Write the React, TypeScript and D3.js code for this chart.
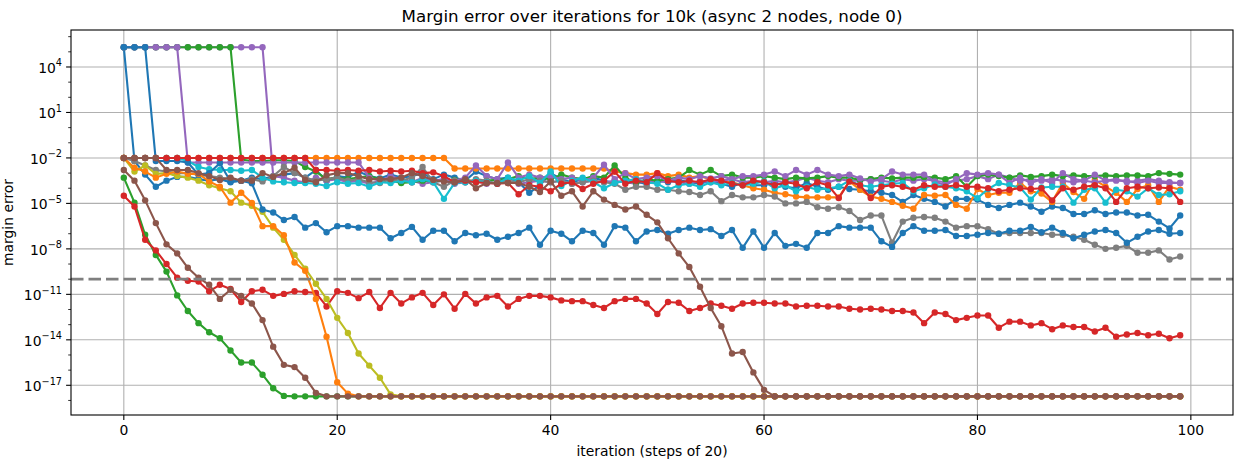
import * as d3 from 'd3';

// values are log10(margin error)
const T = 5.3; // start plateau
const F = -17.73; // numerical floor

const iterations = d3.range(100);

const blueA = [
  T, -2.2, -3.1, -3.9, -3.5, -3.25, -3.25, -3.4, -3.5, -3.4,
  -3.6, -3.5, -3.3, -3.4, -3.2, -3.1, -3.0, -3.3, -2.8, -3.5,
  -3.2, -3.3, -2.9, -3.2, -3.35, -3.1, -3.3, -3.2, -3.0, -3.4,
  -3.1, -3.3, -3.5, -2.9, -3.2, -3.4, -3.3, -3.6, -4.3, -3.8,
  -3.0, -3.4, -3.6, -3.4, -3.3, -3.5, -3.65, -3.5, -3.6, -3.7,
  -3.5, -3.6, -3.45, -3.6, -3.7, -3.5, -3.7, -3.9, -3.6, -3.8,
  -3.8, -3.6, -3.9, -4.0, -3.65, -3.9, -4.1, -3.9, -4.05, -4.1,
  -4.2, -4.3, -4.45, -4.9, -4.45, -4.7, -4.9, -5.2, -4.7, -4.7,
  -4.75, -5.1, -5.3, -5.1, -4.95, -5.2, -5.55, -5.2, -5.3, -5.7,
  -5.7, -5.45, -5.7, -5.6, -5.6, -5.8, -5.75, -6.2, -6.65, -5.8,
];

const blueB = [
  T, T, T, -2.2, -2.2, -2.2, -2.3, -3.1, -3.0, -2.35,
  -3.55, -3.5, -3.67, -5.4, -5.6, -6.1, -5.9, -6.6, -6.3, -6.9,
  -6.5, -6.5, -6.6, -6.6, -6.6, -7.3, -6.95, -6.55, -7.4, -6.8,
  -6.8, -7.5, -6.95, -7.1, -7.0, -7.4, -7.2, -6.95, -6.6, -7.73,
  -6.8, -7.0, -7.5, -6.8, -6.95, -7.73, -6.5, -6.6, -7.5, -6.85,
  -6.75, -7.0, -6.75, -6.6, -6.75, -6.7, -7.15, -6.75, -7.93, -6.85,
  -7.93, -6.95, -7.8, -7.67, -7.93, -6.95, -6.95, -6.5, -6.6, -6.6,
  -6.6, -7.5, -7.87, -6.95, -6.5, -6.8, -6.8, -6.75, -7.15, -7.15,
  -7.07, -6.95, -7.0, -6.8, -6.8, -6.55, -6.9, -6.6, -6.95, -7.3,
  -7.07, -6.85, -6.75, -6.95, -7.6, -7.2, -6.85, -6.75, -7.0, -6.95,
];

const orangeLow = [
  -2.0, -2.65, -2.9, -3.3, -3.05, -2.9, -3.05, -3.05, -3.55, -3.9,
  -4.95, -4.3, -4.97, -6.5, -6.5, -7.1, -8.9, -9.45, -11.3, -13.8,
  -16.8, -17.55, F, F, F, F, F, F, F, F,
  F, F, F, F, F, F, F, F, F, F,
  F, F, F, F, F, F, F, F, F, F,
  F, F, F, F, F, F, F, F, F, F,
  F, F, F, F, F, F, F, F, F, F,
  F, F, F, F, F, F, F, F, F, F,
  F, F, F, F, F, F, F, F, F, F,
  F, F, F, F, F, F, F, F, F, F,
];

const oliveLow = [
  -2.0, -2.9, -2.5, -3.05, -3.0, -3.2, -3.3, -3.5, -3.8, -4.0,
  -4.2, -4.95, -5.15, -5.55, -6.6, -7.4, -8.4, -9.3, -10.3, -11.3,
  -12.55, -13.55, -14.9, -15.7, -16.5, -17.6, F, F, F, F,
  F, F, F, F, F, F, F, F, F, F,
  F, F, F, F, F, F, F, F, F, F,
  F, F, F, F, F, F, F, F, F, F,
  F, F, F, F, F, F, F, F, F, F,
  F, F, F, F, F, F, F, F, F, F,
  F, F, F, F, F, F, F, F, F, F,
  F, F, F, F, F, F, F, F, F, F,
];

const greenLow = [
  -3.3, -4.95, -7.07, -8.4, -9.5, -11.07, -12.1, -12.9, -13.5, -13.9,
  -14.7, -15.5, -15.5, -16.3, -17.2, -17.7, F, F, F, F,
  F, F, F, F, F, F, F, F, F, F,
  F, F, F, F, F, F, F, F, F, F,
  F, F, F, F, F, F, F, F, F, F,
  F, F, F, F, F, F, F, F, F, F,
  F, F, F, F, F, F, F, F, F, F,
  F, F, F, F, F, F, F, F, F, F,
  F, F, F, F, F, F, F, F, F, F,
  F, F, F, F, F, F, F, F, F, F,
];

const redLow = [
  -4.5, -5.2, -7.4, -8.1, -9.0, -9.9, -10.1, -10.15, -10.8, -10.37,
  -10.65, -11.5, -10.8, -10.7, -11.1, -10.97, -10.8, -10.85, -10.9, -11.8,
  -10.8, -10.9, -11.25, -10.85, -11.9, -10.9, -11.6, -11.2, -10.9, -11.7,
  -11.0, -11.95, -10.97, -11.6, -11.2, -11.1, -11.8, -11.3, -11.1, -11.1,
  -11.2, -11.4, -11.45, -11.45, -11.7, -11.9, -11.45, -11.3, -11.3, -11.6,
  -12.3, -11.5, -11.55, -12.1, -11.9, -11.6, -11.75, -11.95, -11.6, -11.55,
  -11.55, -11.6, -11.6, -11.8, -11.75, -11.75, -11.8, -11.8, -11.95, -12.0,
  -11.95, -12.0, -12.1, -12.1, -12.2, -12.9, -12.2, -12.3, -12.7, -12.55,
  -12.4, -12.4, -13.2, -12.8, -12.8, -13.05, -12.9, -13.3, -13.05, -13.15,
  -13.15, -13.45, -13.2, -13.8, -13.65, -13.55, -13.7, -13.6, -13.9, -13.7,
];

const brownLow = [
  -2.8, -3.5, -4.8, -6.3, -7.7, -8.3, -9.25, -9.9, -10.37, -11.3,
  -10.7, -11.1, -11.6, -12.7, -14.45, -15.65, -15.8, -16.5, -17.5, F,
  F, F, F, F, F, F, F, F, F, F,
  F, F, F, F, F, F, F, F, F, F,
  F, F, F, F, F, F, F, F, F, F,
  F, F, F, F, F, F, F, F, F, F,
  F, F, F, F, F, F, F, F, F, F,
  F, F, F, F, F, F, F, F, F, F,
  F, F, F, F, F, F, F, F, F, F,
  F, F, F, F, F, F, F, F, F, F,
];

const brownB = [
  -2.0, -2.0, -2.0, -2.0, -2.8, -2.8, -2.8, -3.0, -3.2, -3.45,
  -3.3, -3.5, -3.5, -3.0, -3.25, -3.0, -2.65, -3.45, -3.6, -3.15,
  -3.0, -3.0, -3.2, -3.4, -3.4, -3.4, -3.3, -3.0, -3.2, -3.45,
  -3.55, -3.6, -3.4, -4.0, -3.65, -3.65, -3.65, -3.65, -3.9, -4.25,
  -3.55, -4.5, -4.2, -5.2, -4.2, -4.75, -5.1, -5.4, -5.2, -5.75,
  -6.25, -7.3, -8.3, -9.2, -10.5, -11.9, -13.1, -14.9, -14.8, -16.15,
  -17.3, F, F, F, F, F, F, F, F, F,
  F, F, F, F, F, F, F, F, F, F,
  F, F, F, F, F, F, F, F, F, F,
  F, F, F, F, F, F, F, F, F, F,
];

const gray = [
  -2.0, -2.2, -2.5, -2.8, -2.9, -3.0, -3.0, -3.1, -3.2, -3.3,
  -3.4, -3.5, -3.4, -3.55, -3.2, -2.6, -3.0, -3.3, -3.5, -3.4,
  -3.3, -3.5, -3.4, -3.6, -3.65, -3.4, -3.5, -3.3, -2.6, -3.6,
  -3.9, -3.5, -3.6, -3.4, -3.5, -3.7, -3.5, -3.6, -3.4, -3.5,
  -3.6, -3.5, -3.7, -3.6, -3.5, -3.6, -3.7, -4.1, -3.9, -3.9,
  -4.1, -4.1, -4.2, -4.25, -4.45, -4.2, -4.85, -4.45, -4.6, -4.6,
  -4.45, -4.55, -5.0, -5.0, -4.9, -5.25, -5.35, -5.25, -5.5, -6.1,
  -5.8, -5.8, -7.6, -6.2, -5.95, -5.9, -5.95, -6.2, -6.6, -6.5,
  -6.5, -6.7, -7.0, -6.95, -6.95, -6.95, -6.95, -7.07, -7.07, -7.2,
  -7.4, -7.73, -8.0, -7.93, -7.8, -8.26, -8.26, -8.1, -8.7, -8.5,
];

const greenA = [
  T, T, T, T, T, T, T, T, T, T,
  T, -2.1, -2.2, -2.2, -2.15, -2.15, -2.2, -2.6, -2.9, -3.4,
  -3.3, -3.4, -3.3, -3.2, -3.4, -3.5, -3.65, -3.6, -3.5, -3.55,
  -3.5, -3.45, -3.4, -3.6, -3.5, -3.45, -3.4, -3.2, -3.4, -3.3,
  -3.4, -3.1, -3.3, -3.4, -3.2, -3.3, -2.5, -3.3, -3.65, -3.4,
  -3.5, -3.4, -3.3, -2.8, -3.1, -2.8, -3.2, -3.1, -3.3, -3.3,
  -3.2, -3.3, -3.4, -3.3, -3.35, -3.3, -3.2, -3.3, -3.3, -3.45,
  -3.4, -3.3, -3.35, -3.3, -3.3, -3.25, -3.3, -3.4, -3.2, -3.9,
  -3.2, -3.1, -3.2, -3.3, -3.15, -3.25, -3.2, -3.1, -3.2, -3.15,
  -3.2, -3.2, -3.15, -3.2, -3.15, -3.15, -3.2, -3.0, -3.05, -3.1,
];

const purpleA = [
  T, T, T, T, T, T, -2.3, -2.3, -2.3, -2.3,
  -2.3, -2.3, -2.3, -2.3, -2.3, -2.3, -2.3, -2.3, -2.3, -2.3,
  -2.3, -2.3, -2.3, -3.3, -3.5, -3.2, -3.4, -3.6, -3.3, -3.5,
  -3.4, -3.5, -3.3, -2.5, -3.2, -3.4, -2.3, -3.3, -3.1, -3.3,
  -3.2, -3.4, -3.3, -3.5, -3.3, -2.45, -3.4, -3.0, -3.4, -3.3,
  -3.2, -3.5, -3.3, -3.4, -3.2, -3.35, -3.2, -3.4, -3.2, -3.2,
  -3.1, -2.9, -3.2, -2.8, -3.1, -2.8, -3.1, -3.2, -3.1, -3.35,
  -3.55, -3.4, -2.9, -3.1, -3.1, -3.1, -3.55, -3.8, -3.4, -3.0,
  -3.1, -3.0, -3.1, -3.65, -3.3, -3.65, -3.4, -3.65, -3.0, -3.4,
  -3.5, -3.1, -3.5, -3.5, -3.5, -3.65, -3.5, -3.65, -3.65, -3.65,
];

const purpleB = [
  T, T, T, T, T, T, T, T, T, T,
  T, T, T, T, -3.2, -3.3, -3.5, -3.6, -3.3, -3.5,
  -3.4, -3.6, -3.5, -3.7, -3.5, -3.4, -3.6, -3.5, -3.7, -3.6,
  -3.5, -3.7, -3.6, -3.5, -3.7, -3.6, -3.5, -3.7, -3.6, -3.5,
  -3.6, -3.5, -3.7, -3.6, -3.5, -3.6, -3.5, -3.6, -3.7, -3.5,
  -3.6, -3.5, -3.6, -3.7, -3.5, -3.6, -3.5, -3.4, -3.6, -3.5,
  -3.6, -3.5, -3.6, -3.5, -3.3, -3.5, -3.6, -3.4, -3.5, -3.5,
  -3.4, -3.5, -3.6, -3.4, -3.5, -3.4, -3.5, -3.6, -3.5, -3.4,
  -3.2, -3.4, -3.1, -3.3, -3.5, -3.4, -3.5, -3.4, -3.5, -3.6,
  -3.5, -3.6, -3.5, -3.4, -3.6, -3.5, -3.4, -3.5, -3.6, -3.65,
];

const redB = [
  -2.0, -2.0, -2.0, -2.0, -2.0, -2.0, -2.0, -2.0, -2.0, -2.0,
  -2.0, -2.0, -2.0, -2.0, -2.0, -2.0, -2.0, -2.0, -2.8, -2.8,
  -2.85, -2.8, -2.85, -2.8, -2.9, -2.85, -2.9, -2.85, -3.0, -2.95,
  -3.2, -3.6, -3.5, -3.6, -3.65, -3.7, -3.65, -4.4, -3.8, -3.9,
  -4.2, -3.7, -3.6, -4.05, -3.7, -3.5, -2.9, -3.7, -3.5, -3.6,
  -3.0, -3.5, -3.6, -3.5, -3.6, -3.4, -3.5, -3.7, -3.8, -3.5,
  -3.6, -3.8, -3.6, -3.7, -4.0, -3.6, -3.8, -4.65, -3.55, -3.8,
  -4.65, -3.9, -3.8, -3.9, -4.1, -3.8, -3.9, -3.9, -3.8, -3.9,
  -3.9, -4.0, -4.2, -4.1, -4.0, -4.05, -4.0, -4.8, -4.0, -4.1,
  -3.9, -3.8, -4.0, -4.9, -4.0, -3.9, -4.0, -3.95, -4.0, -4.9,
];

const orangeB = [
  -2.0, -2.0, -2.0, -2.0, -2.0, -2.0, -2.0, -2.0, -2.0, -2.0,
  -2.0, -2.0, -2.0, -2.0, -2.0, -2.0, -2.0, -2.0, -2.0, -2.0,
  -2.0, -2.0, -2.0, -2.0, -2.0, -2.0, -2.0, -2.0, -2.0, -2.0,
  -2.0, -2.7, -2.7, -2.7, -2.7, -2.7, -2.7, -2.7, -2.7, -2.7,
  -2.7, -2.7, -2.7, -2.7, -2.7, -2.7, -2.9, -3.0, -3.1, -3.1,
  -3.0, -3.2, -3.1, -3.3, -3.2, -3.4, -3.5, -3.6, -3.8, -4.0,
  -4.1, -4.3, -4.4, -4.55, -4.6, -4.6, -4.6, -4.6, -3.55, -4.1,
  -4.55, -4.7, -4.9, -5.15, -5.35, -4.45, -4.5, -4.45, -5.1, -5.35,
  -4.05, -4.45, -4.3, -4.3, -3.65, -4.2, -4.35, -4.9, -3.65, -4.25,
  -4.7, -3.45, -3.9, -4.3, -4.9, -4.05, -3.8, -4.9, -3.9, -4.1,
];

const cyan = [
  -2.0, -2.0, -2.0, -2.0, -2.0, -2.0, -2.2, -2.6, -2.75, -2.8,
  -2.8, -2.85, -2.8, -3.3, -3.55, -3.6, -3.65, -3.65, -3.7, -3.85,
  -3.6, -3.7, -3.65, -3.9, -3.6, -3.65, -3.5, -3.6, -3.4, -3.6,
  -4.7, -3.65, -3.6, -3.5, -3.6, -3.7, -3.3, -3.5, -3.2, -3.65,
  -2.9, -3.85, -3.5, -3.3, -3.6, -4.0, -3.65, -3.5, -3.4, -3.6,
  -3.7, -4.1, -3.8, -3.7, -3.9, -3.6, -3.8, -3.65, -3.8, -3.7,
  -3.55, -4.0, -3.8, -4.2, -3.9, -4.1, -4.0, -3.9, -3.5, -3.8,
  -3.9, -3.8, -3.7, -3.65, -4.2, -4.0, -3.75, -3.9, -4.0, -4.2,
  -4.65, -4.05, -3.65, -3.8, -3.95, -4.75, -3.95, -3.9, -3.9, -4.95,
  -4.1, -4.0, -4.95, -4.1, -4.2, -4.55, -4.0, -4.45, -4.4, -4.2,
];

const yTickExps = [4, 1, -2, -5, -8, -11, -14, -17];
const xTicks = [0, 20, 40, 60, 80, 100];
const threshold = 1e-10;

const series = [
  { values: blueA, color: '#1f77b4' },
  { values: orangeB, color: '#ff7f0e' },
  { values: greenLow, color: '#2ca02c' },
  { values: redLow, color: '#d62728' },
  { values: purpleB, color: '#9467bd' },
  { values: greenA, color: '#2ca02c' },
  { values: purpleA, color: '#9467bd' },
  { values: gray, color: '#7f7f7f' },
  { values: oliveLow, color: '#bcbd22' },
  { values: cyan, color: '#17becf' },
  { values: blueB, color: '#1f77b4' },
  { values: orangeLow, color: '#ff7f0e' },
  { values: redB, color: '#d62728' },
  { values: brownLow, color: '#8c564b' },
  { values: brownB, color: '#8c564b' },
];

const W = 1239;
const H = 462;
const M = { left: 71, right: 1233, top: 30, bottom: 415 };
const FONT = 'DejaVu Sans, sans-serif';

export default function App() {
  const x = d3.scaleLinear().domain([-4.95, 103.95]).range([M.left, M.right]);
  const y = d3
    .scaleLog()
    .domain([Math.pow(10, -18.96), Math.pow(10, 6.44)])
    .range([M.bottom, M.top]);

  const line = d3
    .line<number>()
    .x((_, i) => x(iterations[i]))
    .y((d) => y(Math.pow(10, d)));

  const minorExps = d3.range(-18, 7).filter((e) => !yTickExps.includes(e));

  return (
    <svg
      width={W}
      height={H}
      style={{ position: 'absolute', left: 0, top: 0, background: '#fff' }}
      fontFamily={FONT}
    >
      <defs>
        <clipPath id="plot">
          <rect x={M.left} y={M.top} width={M.right - M.left} height={M.bottom - M.top} />
        </clipPath>
      </defs>

      {/* grid */}
      {xTicks.map((t) => (
        <line key={`gx${t}`} x1={x(t)} x2={x(t)} y1={M.top} y2={M.bottom} stroke="#b0b0b0" strokeWidth={1.1} />
      ))}
      {yTickExps.map((e) => (
        <line
          key={`gy${e}`}
          x1={M.left}
          x2={M.right}
          y1={y(Math.pow(10, e))}
          y2={y(Math.pow(10, e))}
          stroke="#b0b0b0"
          strokeWidth={1.1}
        />
      ))}

      {/* series */}
      <g clipPath="url(#plot)">
        {series.map((s, k) => (
          <g key={k}>
            <path d={line(s.values) || ''} fill="none" stroke={s.color} strokeWidth={2.1} strokeLinejoin="round" />
            {s.values.map((v, i) => (
              <circle key={i} cx={x(iterations[i])} cy={y(Math.pow(10, v))} r={3.2} fill={s.color} />
            ))}
          </g>
        ))}
        <line
          x1={M.left}
          x2={M.right}
          y1={y(threshold)}
          y2={y(threshold)}
          stroke="#7f7f7f"
          strokeWidth={2.8}
          strokeDasharray="12.5,5"
        />
      </g>

      {/* spines */}
      <rect
        x={M.left}
        y={M.top}
        width={M.right - M.left}
        height={M.bottom - M.top}
        fill="none"
        stroke="#000"
        strokeWidth={1.1}
      />

      {/* x ticks */}
      {xTicks.map((t) => (
        <g key={`xt${t}`}>
          <line x1={x(t)} x2={x(t)} y1={M.bottom} y2={M.bottom + 4.9} stroke="#000" strokeWidth={1.1} />
          <text x={x(t)} y={M.bottom + 20} textAnchor="middle" fontSize={13.9} fill="#000">
            {t}
          </text>
        </g>
      ))}

      {/* y ticks */}
      {minorExps.map((e) => (
        <line
          key={`ym${e}`}
          x1={M.left - 2.8}
          x2={M.left}
          y1={y(Math.pow(10, e))}
          y2={y(Math.pow(10, e))}
          stroke="#000"
          strokeWidth={0.8}
        />
      ))}
      {yTickExps.map((e) => {
        const ty = y(Math.pow(10, e));
        return (
          <g key={`yt${e}`}>
            <line x1={M.left - 4.9} x2={M.left} y1={ty} y2={ty} stroke="#000" strokeWidth={1.1} />
            <text x={M.left - 9} y={ty + 6} textAnchor="end" fontSize={13.9} fill="#000">
              10
              <tspan dy={-6.5} fontSize={9.7}>
                {e < 0 ? `\u2212${-e}` : `${e}`}
              </tspan>
            </text>
          </g>
        );
      })}

      {/* labels */}
      <text x={(M.left + M.right) / 2} y={22} textAnchor="middle" fontSize={16.7} fill="#000">
        Margin error over iterations for 10k (async 2 nodes, node 0)
      </text>
      <text x={(M.left + M.right) / 2} y={456} textAnchor="middle" fontSize={13.9} fill="#000">
        iteration (steps of 20)
      </text>
      <text
        transform={`translate(13,${(M.top + M.bottom) / 2}) rotate(-90)`}
        textAnchor="middle"
        fontSize={13.9}
        fill="#000"
      >
        margin error
      </text>
    </svg>
  );
}
